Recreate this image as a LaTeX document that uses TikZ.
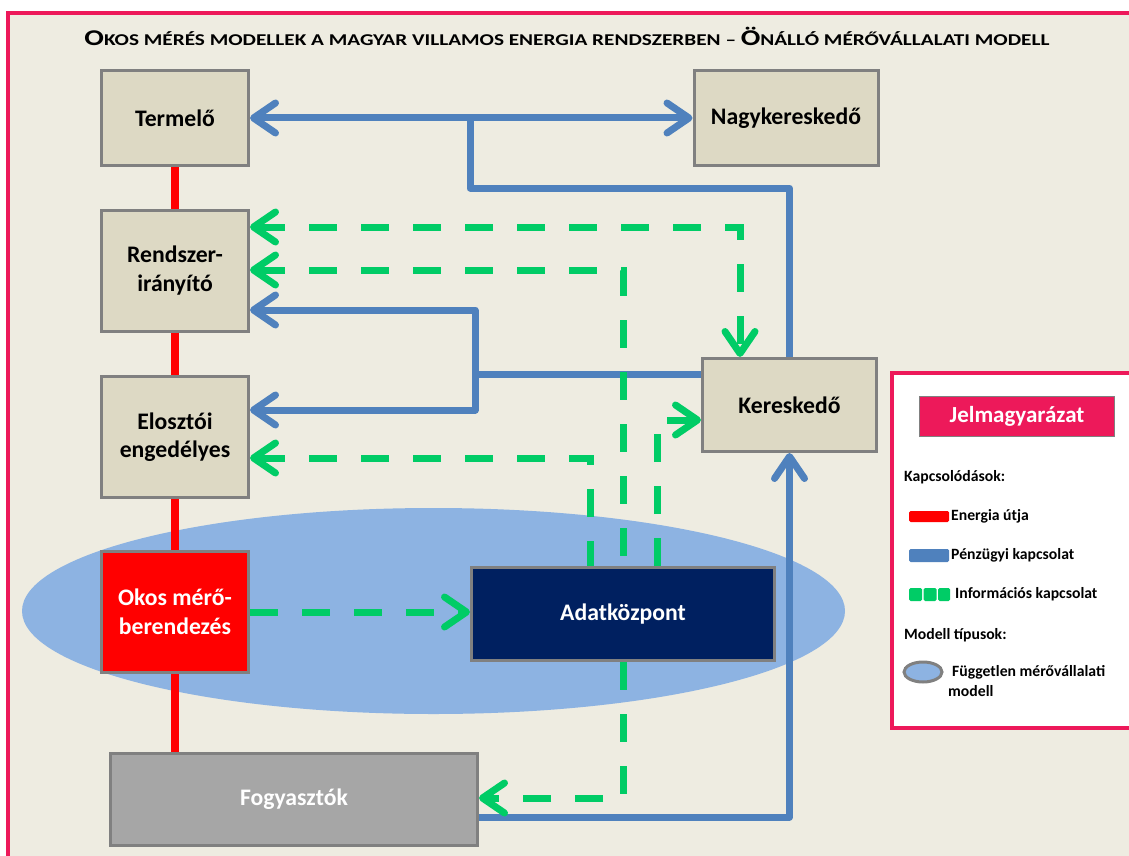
\documentclass[tikz,border=0pt]{standalone}
\usepackage{fontspec}
\setmainfont{Carlito}
\usetikzlibrary{arrows.meta}
\definecolor{bgbeige}{RGB}{238,236,225}
\definecolor{boxtan}{RGB}{221,217,196}
\definecolor{framepink}{RGB}{237,25,90}
\definecolor{edgegray}{RGB}{128,128,128}
\definecolor{moneyblue}{RGB}{79,129,189}
\definecolor{infogreen}{RGB}{0,204,102}
\definecolor{zoneblue}{RGB}{141,179,226}
\definecolor{centernavy}{RGB}{0,32,96}
\definecolor{consgray}{RGB}{166,166,166}
\tikzset{
  chev/.tip={Straight Barb[length=22pt,width=30pt,round]},
  unit/.style={draw=edgegray,line width=3pt,align=center,inner sep=0pt,
    font=\bfseries\fontsize{23.7}{28.5}\selectfont},
  tanbox/.style={unit,fill=boxtan},
  energy/.style={draw=red,line width=8pt},
  money/.style={draw=moneyblue,line width=7pt,line join=round},
  info/.style={draw=infogreen,line width=7pt,dash pattern=on 28pt off 24pt},
  legtext/.style={anchor=west,inner sep=0pt,font=\bfseries\fontsize{15.7}{18}\selectfont},
}
\begin{document}
\begin{tikzpicture}[x=1pt,y=-1pt]
\useasboundingbox (0,0) rectangle (1129,856);
\clip (0,0) rectangle (1129,856);
\fill[white] (0,0) rectangle (1129,856);
% outer frame
\draw[draw=framepink,fill=bgbeige,line width=4pt] (8,13) rectangle (1145,875);

% title
\node[inner sep=0pt] (title) at (567,36) {\resizebox{965pt}{\height}{\bfseries
  {\fontsize{22.5}{22}\selectfont O}{\fontsize{16.5}{16}\selectfont KOS MÉRÉS MODELLEK A MAGYAR VILLAMOS ENERGIA RENDSZERBEN – }{\fontsize{22.5}{22}\selectfont Ö}{\fontsize{16.5}{16}\selectfont NÁLLÓ MÉRŐVÁLLALATI MODELL}}};

% independent metering company zone
\fill[zoneblue] (433.5,611) ellipse [x radius=411.5, y radius=103];

% units
\node[tanbox,minimum width=147pt,minimum height=95pt] (term) at (175,118) {Termelő};
\node[tanbox,minimum width=184pt,minimum height=95pt] (nagy) at (786,118) {Nagykereskedő};
\node[tanbox,minimum width=147pt,minimum height=121pt] (rend) at (175,270.5) {Rendszer-\\irányító};
\node[tanbox,minimum width=147pt,minimum height=121pt] (elo) at (175,437) {Elosztói\\engedélyes};
\node[unit,fill=red,text=white,minimum width=147pt,minimum height=121pt] (okos) at (175,612) {Okos mérő-\\berendezés};
\node[unit,fill=centernavy,text=white,minimum width=303pt,minimum height=93pt] (adat) at (623,614) {Adatközpont};
\node[tanbox,minimum width=174pt,minimum height=93pt] (ker) at (789.5,405) {Kereskedő};
\node[unit,fill=consgray,text=white,minimum width=367pt,minimum height=92pt] (fogy) at (294,799.5) {Fogyasztók};

% bend points
\coordinate (b1) at (470,188);
\coordinate (b2) at (475,310);
\coordinate (b3) at (475,410);
\coordinate (b4) at (475,374);
\coordinate (b5) at (790,817);
\coordinate (g1) at (740,227);
\coordinate (g2) at (623,270);
\coordinate (g3) at (590,458);
\coordinate (g4) at (657,420);
\coordinate (g5) at (623,798);

% energy path
\draw[energy] (term.south) -- (rend.north);
\draw[energy] (rend.south) -- (elo.north);
\draw[energy] (elo.south) -- (okos.north);
\draw[energy] (okos.south) -- (okos.south |- fogy.north);

% financial links
\draw[money,chev-chev] (term.east) -- (nagy.west);
\draw[money] (b1 |- term.east) -- (b1) -| (ker.north);
\draw[money] (ker.west |- b4) -- (b4);
\draw[money,-chev] (b4) |- (rend.east |- b2);
\draw[money,-chev] (b4) |- (elo.east |- b3);
\draw[money,-chev] (fogy.east |- b5) -| (ker.south);

% information links
\draw[info,chev-chev] (rend.east |- g1) -| (g1 |- ker.north);
\draw[info,chev-] (rend.east |- g2) -| (adat.north);
\draw[info,chev-] (elo.east |- g3) -| (g3 |- adat.north);
\draw[info,-chev] (g4 |- adat.north) |- (ker.west |- g4);
\draw[info,-chev] (okos.east) -- (adat.west |- okos.east);
\draw[info,-chev] (adat.south) |- (fogy.east |- g5);

% legend
\draw[draw=framepink,fill=white,line width=4pt] (892,373) rectangle (1145,728);
\node[draw=edgegray,line width=1.5pt,fill=framepink,text=white,minimum width=195pt,minimum height=40pt,inner sep=0pt,
  font=\bfseries\fontsize{23}{26}\selectfont] (legtitle) at (1017,416.5) {Jelmagyarázat};
\node[legtext] (lkap) at (904,477) {Kapcsolódások:};
\fill[red,rounded corners=1.5pt] (909,511) rectangle (949,522);
\node[legtext] (len) at (951,516) {Energia útja};
\fill[moneyblue,rounded corners=1.5pt] (909,549) rectangle (949,562);
\node[legtext] (lpen) at (951,555) {Pénzügyi kapcsolat};
\fill[infogreen,rounded corners=1.5pt] (909,588) rectangle (922,601);
\fill[infogreen,rounded corners=1.5pt] (923.5,588) rectangle (936.5,601);
\fill[infogreen,rounded corners=1.5pt] (938,588) rectangle (950,601);
\node[legtext] (linf) at (955,594) {Információs kapcsolat};
\node[legtext] (lmod) at (904,635) {Modell típusok:};
\draw[fill=zoneblue,draw=edgegray,line width=3pt] (923,672) ellipse [x radius=19, y radius=10];
\node[legtext] (lfug) at (952,672) {Független mérővállalati};
\node[legtext] (lfug2) at (948,691) {modell};
\end{tikzpicture}
\end{document}
